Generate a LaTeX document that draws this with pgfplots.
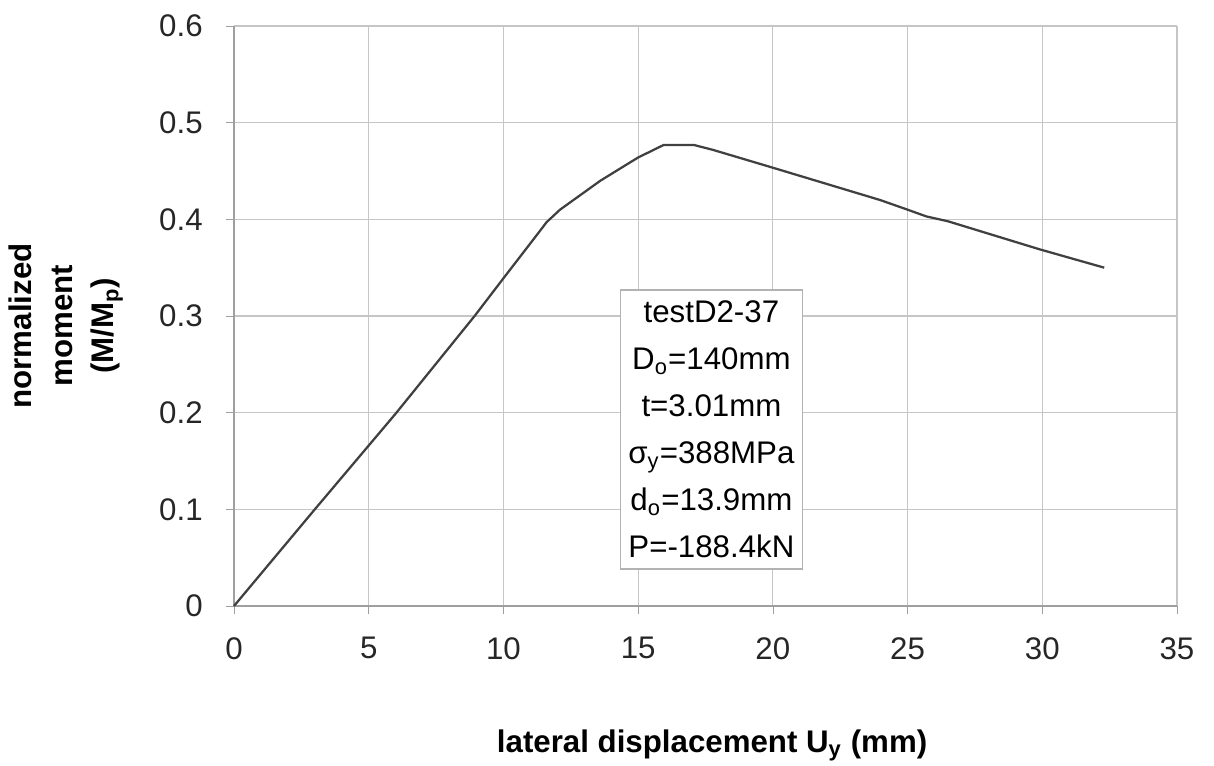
\documentclass[border=0pt]{standalone}
\usepackage{pgfplots}
\pgfplotsset{compat=1.18}
\usepackage{fontspec}
\setmainfont{Liberation Sans}
\begin{document}
\begin{tikzpicture}
\begin{axis}[
  scale only axis,
  width=377.2pt, height=232pt,
  xmin=0, xmax=35, ymin=0, ymax=0.6,
  xtick={0,5,...,35},
  ytick={0,0.1,...,0.6},
  yticklabel style={/pgf/number format/fixed, /pgf/number format/precision=1},
  /pgf/number format/assume math mode=true,
  ticklabel style={font=\fontsize{12.5}{15}\selectfont, text=black!85},
  xticklabel style={yshift=-6pt},
  yticklabel style={xshift=-6pt},
  grid=major,
  major grid style={draw=gray!45, line width=0.5pt},
  axis line style={draw=gray!75, line width=0.6pt},
  axis x line*=bottom, axis y line*=left,
  tick align=outside, major tick length=3pt,
  tick style={draw=gray!75},
  xlabel={lateral displacement U\textsubscript{y} (mm)},
  xlabel style={font=\fontsize{12.5}{15}\selectfont\bfseries, at={(rel axis cs:0.507,-0.24)}, anchor=center},
  ylabel={normalized\\moment\\(M/M\textsubscript{p})},
  ylabel style={font=\fontsize{12.5}{16.4}\selectfont\bfseries, align=center, at={(rel axis cs:-0.178,0.483)}, anchor=center},
  clip=false,
]
\addplot[draw=black!75, line width=0.9pt, mark=none] coordinates {
(0,0) (3,0.1) (5,0.166) (6,0.199) (8.93,0.3) (10,0.339) (11.3,0.386) (11.6,0.397) (12.1,0.41) (12.6,0.42) (13.6,0.44) (15,0.464) (15.95,0.477) (17.06,0.477) (17.76,0.472) (19.93,0.454) (23.98,0.42) (25,0.41) (25.7,0.403) (26.5,0.398) (29.9,0.369) (32.3,0.350)
};
\node[draw=gray!60, fill=white, line width=0.5pt, align=center, font=\fontsize{12.5}{18.8}\selectfont, minimum width=73pt, minimum height=111.6pt, inner sep=2pt] at (axis cs:17.72,0.1826) {testD2-37\\D\textsubscript{o}=140mm\\t=3.01mm\\σ\textsubscript{y}=388MPa\\d\textsubscript{o}=13.9mm\\P=-188.4kN};
\coordinate (sw) at (rel axis cs:0,0);
\end{axis}
\pgfresetboundingbox
\path[use as bounding box] (sw) ++(-93.6pt,-63.6pt) rectangle ++(485.6pt,306pt);
\end{tikzpicture}
\end{document}
